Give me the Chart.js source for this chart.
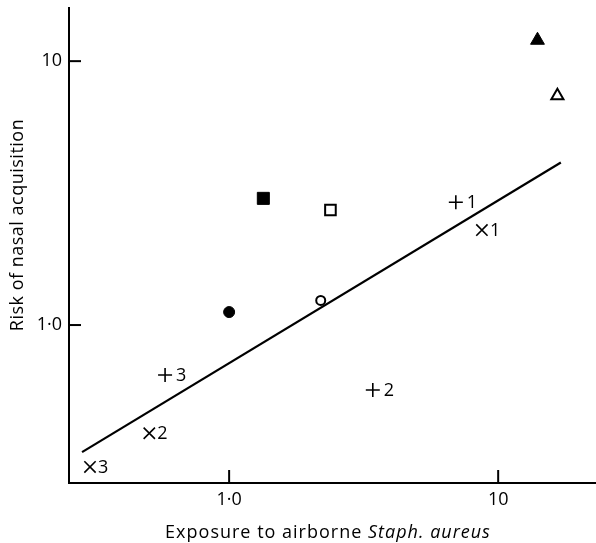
<!DOCTYPE html>
<html>
<head>
<meta charset="utf-8">
<script src="https://cdn.jsdelivr.net/npm/chart.js@4.4.0/dist/chart.umd.min.js"></script>
<style>
  html, body { margin: 0; padding: 0; background: #fff; }
  #wrap { width: 596px; height: 543px; }
</style>
</head>
<body>
<div id="wrap"><canvas id="chart"></canvas></div>
<script>
// values (log-log scatter)
const exposure  = [14.0, 16.6, 1.34, 2.38, 1.0, 2.19, 6.96, 3.42, 0.578, 8.7, 0.505, 0.304];
const risk      = [12.0, 7.4, 3.02, 2.73, 1.12, 1.24, 2.92, 0.567, 0.647, 2.29, 0.389, 0.29];
const symbols   = ['triangle', 'triangle', 'rect', 'rect', 'circle', 'circle', 'cross', 'cross', 'cross', 'crossRot', 'crossRot', 'crossRot'];
const filled    = [true, false, true, false, true, false, true, true, true, true, true, true];
const pointTags = ['', '', '', '', '', '', '1', '2', '3', '1', '2', '3'];

// regression line end points
const fitExposure = [0.284, 17.1];
const fitRisk     = [0.33, 4.13];

const tickValues = [1, 10];
const tickNames  = ['1·0', '10'];

const FONT = '"Open Sans", sans-serif';

// marker sizes per symbol (filled / open)
function radiusFor(sym, full) {
    if (sym === 'triangle') return full ? 8 : 7;
    if (sym === 'rect') return full ? 8.5 : 7.5;
    if (sym === 'circle') return full ? 5.5 : 4.5;
    if (sym === 'cross') return 7;
    return 8;
}

const points = exposure.map((x, i) => ({ x: x, y: risk[i] }));
const fitLine = fitExposure.map((x, i) => ({ x: x, y: fitRisk[i] }));

const extras = {
    id: 'extras',
    afterDraw(chart) {
        const ctx = chart.ctx;
        const xs = chart.scales.x, ys = chart.scales.y;
        ctx.save();
        ctx.strokeStyle = '#000';
        ctx.fillStyle = '#000';
        ctx.lineWidth = 2;
        // inward tick marks
        tickValues.forEach(v => {
            const px = xs.getPixelForValue(v);
            ctx.beginPath();
            ctx.moveTo(px, xs.top);
            ctx.lineTo(px, xs.top - 13);
            ctx.stroke();
            const py = ys.getPixelForValue(v);
            ctx.beginPath();
            ctx.moveTo(ys.right, py);
            ctx.lineTo(ys.right + 12, py);
            ctx.stroke();
        });
        // numbers beside the + and x markers
        const meta = chart.getDatasetMeta(0);
        ctx.font = '18px ' + FONT;
        ctx.textBaseline = 'middle';
        ctx.textAlign = 'left';
        meta.data.forEach((pt, i) => {
            if (!pointTags[i]) return;
            const dx = symbols[i] === 'cross' ? 11 : 8;
            ctx.fillText(pointTags[i], pt.x + dx, pt.y + 1);
        });
        // y title
        ctx.save();
        ctx.translate(18, 225);
        ctx.rotate(-Math.PI / 2);
        ctx.textAlign = 'center';
        ctx.font = '18px ' + FONT;
        ctx.letterSpacing = '0.5px';
        ctx.fillText('Risk of nasal acquisition', 0, 0);
        ctx.restore();
        // x title with italic species name
        const a = 'Exposure to airborne ', b = 'Staph. aureus';
        ctx.letterSpacing = '1px';
        ctx.font = '18px ' + FONT;
        const wa = ctx.measureText(a).width;
        ctx.font = 'italic 18px ' + FONT;
        const wb = ctx.measureText(b).width;
        const x0 = 328 - (wa + wb) / 2;
        ctx.textBaseline = 'alphabetic';
        ctx.font = '18px ' + FONT;
        ctx.fillText(a, x0, 538);
        ctx.font = 'italic 18px ' + FONT;
        ctx.fillText(b, x0 + wa, 538);
        ctx.restore();
    }
};

function axis(min, max, size, horizontal) {
    return {
        type: 'logarithmic',
        min: min,
        max: max,
        grid: { drawOnChartArea: false, drawTicks: false },
        border: { color: '#000', width: 2 },
        ticks: {
            color: '#000',
            font: { family: FONT, size: 18 },
            padding: horizontal ? 6 : 7,
            maxRotation: 0,
            callback: v => {
                const k = tickValues.indexOf(v);
                return k >= 0 ? tickNames[k] : '';
            }
        },
        afterBuildTicks: s => { s.ticks = tickValues.map(v => ({ value: v })); },
        afterFit: s => {
            if (horizontal) s.height = size; else s.width = size;
            s.paddingTop = s.paddingBottom = s.paddingLeft = s.paddingRight = 0;
        }
    };
}

const myChart = new Chart(document.getElementById('chart'), {
    type: 'scatter',
    data: {
        datasets: [{
            data: points,
            pointStyle: symbols,
            pointRadius: symbols.map((s, i) => radiusFor(s, filled[i])),
            pointBackgroundColor: filled.map(f => f ? '#000' : '#fff'),
            pointBorderColor: '#000',
            pointBorderWidth: symbols.map((s, i) => s.startsWith('cross') ? 1.6 : (filled[i] ? 1 : 2))
        }, {
            data: fitLine,
            showLine: true,
            borderColor: '#000',
            borderWidth: 2.2,
            pointRadius: 0
        }]
    },
    options: {
        responsive: true,
        maintainAspectRatio: false,
        animation: false,
        layout: { autoPadding: false, padding: { top: 8, right: 0, bottom: 0, left: 0 } },
        plugins: { legend: { display: false }, tooltip: { enabled: false } },
        scales: {
            x: axis(0.254, 23.1, 60, true),
            y: axis(0.252, 15.9, 69, false)
        }
    },
    plugins: [extras]
});
</script>
</body>
</html>
